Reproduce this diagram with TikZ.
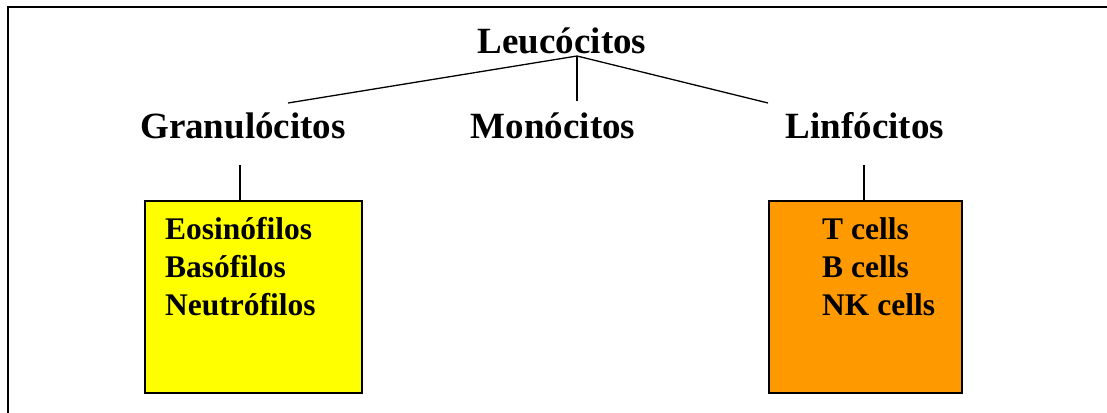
\documentclass[tikz,border=0pt]{standalone}
\usepackage{fontspec}
\setmainfont{Liberation Serif}
\definecolor{boxyellow}{HTML}{FFFF00}
\definecolor{boxorange}{HTML}{FF9900}
\begin{document}
\begin{tikzpicture}[x=1pt,y=-1pt,
  title/.style={font=\fontsize{37}{40}\selectfont\bfseries, anchor=base, inner sep=0pt},
  boxtext/.style={font=\fontsize{31.5}{38}\selectfont\bfseries, anchor=base west, inner sep=0pt},
  conn/.style={line width=1.3pt},
  cellbox/.style={draw=black, line width=2pt, anchor=north west, inner sep=0pt, minimum height=192pt}]
\useasboundingbox (0,0) rectangle (1107,412);
\fill[white] (-2,-2) rectangle (1109,414);
\begin{scope}
\clip (0,0) rectangle (1107,412);
\draw[line width=2pt] (8,440) -- (8,7) -- (1140,7);
\end{scope}
\node[title] (leu) at (562,53) {Leucócitos};
\node[title] (gra) at (243,138) {Granulócitos};
\node[title] (mon) at (553,138) {Monócitos};
\node[title] (lin) at (865,138) {Linfócitos};
\coordinate (j) at (577,56);
\coordinate (gl) at (288,103);
\coordinate (ml) at (577,101);
\coordinate (ll) at (768,103);
\draw[conn] (gl) -- (j) -- (ll);
\draw[conn] (j) -- (ml);
\node[cellbox, fill=boxyellow, minimum width=217pt] (yb) at (144,200) {};
\node[cellbox, fill=boxorange, minimum width=193pt] (ob) at (768,200) {};
\coordinate (gt) at (240,165);
\coordinate (lt) at (864,165);
\draw[conn] (gt) -- (gt |- yb.north);
\draw[conn] (lt) -- (lt |- ob.north);
\node[boxtext] (y1) at (165,239) {Eosinófilos};
\node[boxtext] (y2) at (165,277) {Basófilos};
\node[boxtext] (y3) at (165,315) {Neutrófilos};
\node[boxtext] (o1) at (822,239) {T cells};
\node[boxtext] (o2) at (822,277) {B cells};
\node[boxtext] (o3) at (822,315) {NK cells};
\end{tikzpicture}
\end{document}
